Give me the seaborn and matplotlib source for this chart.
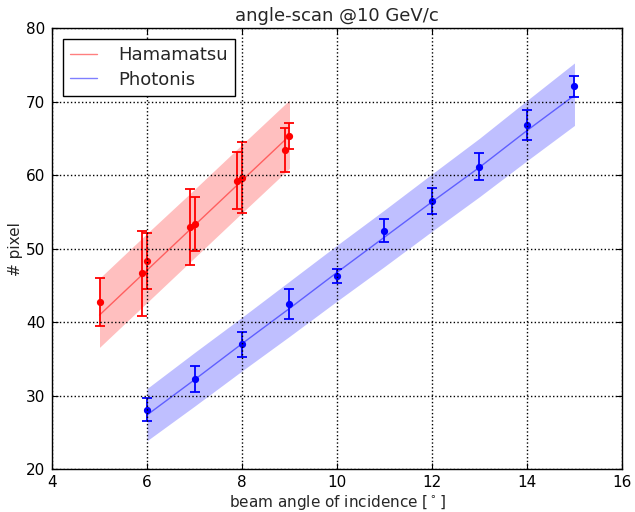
import matplotlib
matplotlib.use("Agg")
import matplotlib.pyplot as plt
import seaborn as sns
import pandas as pd

# ---- data ----
hama_x = [5.0, 5.9, 6.0, 6.9, 7.0, 7.9, 8.0, 8.9, 9.0]
hama_y = [42.75, 46.7, 48.3, 53.0, 53.4, 59.3, 59.7, 63.45, 65.3]
hama_err = [3.3, 5.8, 3.8, 5.2, 3.7, 3.9, 4.85, 3.0, 1.77]

hama_band_x = [5, 6, 7, 8, 9]
hama_fit = [41.0, 47.1, 53.2, 59.3, 65.4]
hama_upper = [46.0, 52.1, 58.1, 64.2, 70.26]
hama_lower = [36.6, 42.7, 48.8, 54.9, 60.96]

phot_x = [6, 7, 8, 9, 10, 11, 12, 13, 14, 15]
phot_y = [28.1, 32.3, 37.0, 42.5, 46.3, 52.5, 56.55, 61.2, 66.85, 72.1]
phot_err = [1.55, 1.8, 1.7, 2.05, 0.98, 1.6, 1.8, 1.85, 2.08, 1.47]

phot_band_x = [6, 7, 8, 9, 10, 11, 12, 13, 14, 15]
phot_fit = [27.4, 32.2, 37.1, 41.9, 46.8, 51.6, 56.4, 61.1, 66.1, 70.9]
phot_upper = [31.0, 35.9, 40.7, 45.6, 50.5, 55.3, 60.2, 65.05, 70.2, 75.3]
phot_lower = [23.9, 28.6, 33.4, 38.1, 42.9, 47.6, 52.4, 57.1, 62.0, 66.8]

series_names = ["Hamamatsu", "Photonis"]
x_ticks = [4, 6, 8, 10, 12, 14, 16]
y_ticks = [20, 30, 40, 50, 60, 70, 80]

sns.set_style("ticks")
plt.rcParams.update({
    "font.family": ["DejaVu Sans"],
    "xtick.direction": "in", "ytick.direction": "in",
    "xtick.top": True, "ytick.right": True,
    "xtick.major.size": 4.5, "ytick.major.size": 4.5,
    "xtick.color": "black", "ytick.color": "black",
    "axes.edgecolor": "black", "axes.linewidth": 1.0,
    "mathtext.fontset": "dejavusans",
})

fig = plt.figure(figsize=(6.35, 5.12), dpi=100)
ax = fig.add_axes([0.0819, 0.0832, 0.8976, 0.8613])

fit_df = pd.concat([
    pd.DataFrame({"x": hama_band_x, "y": hama_fit, "s": series_names[0]}),
    pd.DataFrame({"x": phot_band_x, "y": phot_fit, "s": series_names[1]}),
])

ax.fill_between(hama_band_x, hama_lower, hama_upper, color="red", alpha=0.25, lw=0)
ax.fill_between(phot_band_x, phot_lower, phot_upper, color="blue", alpha=0.25, lw=0)

sns.lineplot(data=fit_df, x="x", y="y", hue="s", palette=["red", "blue"],
             alpha=0.5, lw=1.0, ax=ax, legend=False, estimator=None, sort=False)

ax.errorbar(hama_x, hama_y, yerr=hama_err, fmt="o", color="red", ms=4.2,
            mec="red", capsize=3.8, elinewidth=1.3, capthick=1.3)
ax.errorbar(phot_x, phot_y, yerr=phot_err, fmt="o", color="blue", ms=4.2,
            mec="blue", capsize=3.8, elinewidth=1.3, capthick=1.3)

ax.set_xlim(4, 16)
ax.set_ylim(20, 80)
ax.set_xticks(x_ticks)
ax.set_yticks(y_ticks)
ax.tick_params(axis="x", labelsize=11, pad=4)
ax.tick_params(axis="y", labelsize=11, pad=5)
ax.set_axisbelow(False)
ax.grid(True, color="black", linestyle=":", linewidth=1.0)

ax.set_title("angle-scan @10 GeV/c", fontsize=13, pad=5)
ax.set_xlabel(r"beam angle of incidence $[^\circ]$", fontsize=11, labelpad=2)
ax.set_ylabel("# pixel", fontsize=11, labelpad=2)

handles = ax.get_lines()[:2]
leg = ax.legend(handles, series_names, loc="upper left", fontsize=13,
                fancybox=False, frameon=True, edgecolor="black",
                borderaxespad=0.6, handlelength=1.5, handletextpad=1.15,
                borderpad=0.4, labelspacing=0.35)
leg.get_frame().set_linewidth(1.0)
leg.get_frame().set_alpha(1.0)

fig.savefig("out.png", dpi=100)
